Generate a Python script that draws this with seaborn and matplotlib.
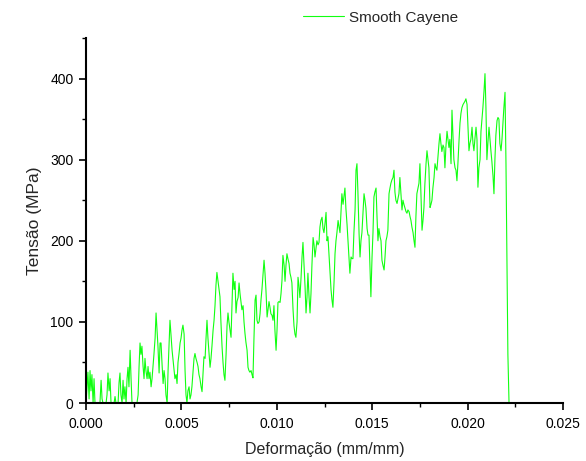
import numpy as np
import pandas as pd
import seaborn as sns
import matplotlib
matplotlib.use('Agg')
import matplotlib.pyplot as plt
from matplotlib.ticker import MultipleLocator, FormatStrFormatter

# strain (mm/mm), one value per pixel column
strain = [
    0.00000, 0.00005, 0.00010, 0.00016, 0.00021, 0.00026, 0.00031, 0.00037, 0.00042, 0.00047,
    0.00052, 0.00058, 0.00063, 0.00068, 0.00073, 0.00079, 0.00084, 0.00089, 0.00094, 0.00100,
    0.00105, 0.00110, 0.00115, 0.00121, 0.00126, 0.00131, 0.00136, 0.00142, 0.00147, 0.00152,
    0.00157, 0.00162, 0.00168, 0.00173, 0.00178, 0.00183, 0.00189, 0.00194, 0.00199, 0.00204,
    0.00210, 0.00215, 0.00220, 0.00225, 0.00231, 0.00236, 0.00241, 0.00246, 0.00252, 0.00257,
    0.00262, 0.00267, 0.00273, 0.00278, 0.00283, 0.00288, 0.00293, 0.00299, 0.00304, 0.00309,
    0.00314, 0.00320, 0.00325, 0.00330, 0.00335, 0.00341, 0.00346, 0.00351, 0.00356, 0.00362,
    0.00367, 0.00372, 0.00377, 0.00383, 0.00388, 0.00393, 0.00398, 0.00404, 0.00409, 0.00414,
    0.00419, 0.00425, 0.00430, 0.00435, 0.00440, 0.00445, 0.00451, 0.00456, 0.00461, 0.00466,
    0.00472, 0.00477, 0.00482, 0.00487, 0.00493, 0.00498, 0.00503, 0.00508, 0.00514, 0.00519,
    0.00524, 0.00529, 0.00534, 0.00540, 0.00545, 0.00550, 0.00555, 0.00561, 0.00566, 0.00571,
    0.00576, 0.00582, 0.00587, 0.00592, 0.00597, 0.00603, 0.00608, 0.00613, 0.00618, 0.00624,
    0.00629, 0.00634, 0.00639, 0.00645, 0.00650, 0.00655, 0.00660, 0.00666, 0.00671, 0.00676,
    0.00681, 0.00686, 0.00692, 0.00697, 0.00702, 0.00707, 0.00713, 0.00718, 0.00723, 0.00728,
    0.00734, 0.00739, 0.00744, 0.00749, 0.00755, 0.00760, 0.00765, 0.00770, 0.00776, 0.00781,
    0.00786, 0.00791, 0.00797, 0.00802, 0.00807, 0.00812, 0.00817, 0.00823, 0.00828, 0.00833,
    0.00838, 0.00844, 0.00849, 0.00854, 0.00859, 0.00865, 0.00870, 0.00875, 0.00880, 0.00886,
    0.00891, 0.00896, 0.00901, 0.00907, 0.00912, 0.00917, 0.00922, 0.00928, 0.00933, 0.00938,
    0.00943, 0.00949, 0.00954, 0.00959, 0.00964, 0.00969, 0.00975, 0.00980, 0.00985, 0.00990,
    0.00996, 0.01001, 0.01006, 0.01011, 0.01017, 0.01022, 0.01027, 0.01032, 0.01038, 0.01043,
    0.01048, 0.01053, 0.01058, 0.01064, 0.01069, 0.01074, 0.01079, 0.01085, 0.01090, 0.01095,
    0.01100, 0.01106, 0.01111, 0.01116, 0.01121, 0.01127, 0.01132, 0.01137, 0.01142, 0.01148,
    0.01153, 0.01158, 0.01163, 0.01169, 0.01174, 0.01179, 0.01184, 0.01190, 0.01195, 0.01200,
    0.01205, 0.01210, 0.01216, 0.01221, 0.01226, 0.01231, 0.01237, 0.01242, 0.01247, 0.01252,
    0.01258, 0.01263, 0.01268, 0.01273, 0.01279, 0.01284, 0.01289, 0.01294, 0.01300, 0.01305,
    0.01310, 0.01315, 0.01321, 0.01326, 0.01331, 0.01336, 0.01341, 0.01347, 0.01352, 0.01357,
    0.01362, 0.01368, 0.01373, 0.01378, 0.01383, 0.01389, 0.01394, 0.01399, 0.01404, 0.01410,
    0.01415, 0.01420, 0.01425, 0.01431, 0.01436, 0.01441, 0.01446, 0.01452, 0.01457, 0.01462,
    0.01467, 0.01473, 0.01478, 0.01483, 0.01488, 0.01493, 0.01499, 0.01504, 0.01509, 0.01514,
    0.01520, 0.01525, 0.01530, 0.01535, 0.01541, 0.01546, 0.01551, 0.01556, 0.01562, 0.01567,
    0.01572, 0.01577, 0.01582, 0.01588, 0.01593, 0.01598, 0.01603, 0.01609, 0.01614, 0.01619,
    0.01624, 0.01630, 0.01635, 0.01640, 0.01645, 0.01651, 0.01656, 0.01661, 0.01666, 0.01672,
    0.01677, 0.01682, 0.01687, 0.01693, 0.01698, 0.01703, 0.01708, 0.01714, 0.01719, 0.01724,
    0.01729, 0.01734, 0.01740, 0.01745, 0.01750, 0.01755, 0.01761, 0.01766, 0.01771, 0.01776,
    0.01782, 0.01787, 0.01792, 0.01797, 0.01803, 0.01808, 0.01813, 0.01818, 0.01824, 0.01829,
    0.01834, 0.01839, 0.01845, 0.01850, 0.01855, 0.01860, 0.01865, 0.01871, 0.01876, 0.01881,
    0.01886, 0.01892, 0.01897, 0.01902, 0.01907, 0.01913, 0.01918, 0.01923, 0.01928, 0.01934,
    0.01939, 0.01944, 0.01949, 0.01955, 0.01960, 0.01965, 0.01970, 0.01976, 0.01981, 0.01986,
    0.01991, 0.01997, 0.02002, 0.02007, 0.02012, 0.02017, 0.02023, 0.02028, 0.02033, 0.02038,
    0.02044, 0.02049, 0.02054, 0.02059, 0.02065, 0.02070, 0.02075, 0.02080, 0.02086, 0.02091,
    0.02096, 0.02101, 0.02106, 0.02112, 0.02117, 0.02122, 0.02127, 0.02133, 0.02138, 0.02143,
    0.02148, 0.02154, 0.02159, 0.02164, 0.02169, 0.02175, 0.02180, 0.02185, 0.02190, 0.02196,
    0.02201, 0.02206, 0.02211, 0.02217,
]

# stress (MPa)
stress = [
    0, 20, 38, 5, 40, 15, 35, 0, 30, 0,
    0, 0, 0, 0, 0, 28, 5, 0, 0, 0,
    0, 10, 37, 15, 30, 0, 0, 0, 0, 8,
    0, 0, 0, 25, 37, 10, 0, 28, 5, 20,
    0, 30, 44, 20, 65, 30, 0, 0, 0, 0,
    0, 0, 10, 45, 74, 60, 70, 45, 30, 55,
    40, 30, 45, 30, 38, 20, 30, 45, 60, 80,
    111, 90, 70, 37, 74, 74, 50, 24, 40, 30,
    10, 0, 40, 70, 102, 85, 65, 53, 40, 30,
    35, 24, 50, 60, 74, 80, 90, 96, 85, 40,
    10, 0, 15, 20, 5, 10, 20, 40, 55, 61,
    55, 50, 45, 35, 30, 20, 14, 35, 57, 55,
    80, 102, 80, 60, 44, 55, 70, 90, 102, 120,
    145, 161, 150, 140, 131, 100, 69, 50, 35, 28,
    60, 95, 111, 100, 90, 81, 120, 160, 140, 150,
    111, 125, 130, 148, 135, 125, 115, 120, 100, 86,
    75, 65, 44, 40, 38, 40, 35, 31, 78, 127,
    133, 102, 98, 100, 110, 127, 140, 160, 176, 160,
    139, 106, 115, 125, 118, 110, 108, 102, 120, 90,
    65, 90, 124, 125, 124, 135, 151, 182, 170, 150,
    170, 184, 178, 172, 160, 155, 148, 115, 95, 85,
    81, 100, 155, 145, 130, 155, 180, 198, 172, 143,
    111, 130, 160, 130, 111, 135, 170, 204, 195, 180,
    190, 200, 195, 198, 217, 225, 229, 215, 210, 220,
    235, 200, 205, 185, 160, 140, 127, 118, 150, 184,
    200, 210, 225, 217, 210, 235, 258, 245, 255, 265,
    240, 220, 200, 180, 160, 180, 178, 178, 210, 238,
    287, 295, 260, 209, 180, 200, 210, 235, 258, 250,
    240, 215, 207, 207, 170, 131, 180, 210, 254, 260,
    265, 230, 200, 215, 205, 200, 176, 170, 164, 180,
    200, 205, 213, 258, 265, 271, 275, 278, 287, 260,
    250, 246, 252, 258, 278, 255, 238, 250, 245, 240,
    236, 234, 238, 236, 230, 225, 217, 210, 200, 192,
    230, 258, 265, 271, 295, 260, 213, 225, 241, 270,
    295, 311, 300, 290, 241, 245, 250, 265, 278, 295,
    290, 287, 305, 320, 332, 320, 310, 318, 315, 290,
    315, 335, 325, 315, 325, 295, 361, 330, 300, 290,
    287, 274, 295, 324, 345, 357, 364, 368, 370, 372,
    375, 368, 340, 311, 320, 325, 340, 320, 311, 325,
    340, 325, 266, 290, 300, 335, 350, 364, 385, 406,
    364, 300, 320, 340, 325, 311, 298, 280, 258, 300,
    330, 348, 352, 350, 320, 311, 325, 345, 364, 383,
    295, 176, 60, 0,
]

series_name = "Smooth Cayene"
x_label = "Deformação (mm/mm)"
y_label = "Tensão (MPa)"

df = pd.DataFrame({'strain': strain, 'stress': stress})

sns.set_style("ticks")
plt.rcParams['font.family'] = ['Liberation Sans', 'DejaVu Sans']

fig = plt.figure(figsize=(5.86, 4.61), dpi=100)
ax = fig.add_axes([0.1468, 0.1258, 0.814, 0.7918])

sns.lineplot(data=df, x='strain', y='stress', ax=ax, color='#11ff11',
             linewidth=0.8, estimator=None, sort=False, label=series_name)

ax.set_xlim(0, 0.025)
ax.set_ylim(0, 450)
ax.xaxis.set_major_locator(MultipleLocator(0.005))
ax.xaxis.set_minor_locator(MultipleLocator(0.0025))
ax.xaxis.set_major_formatter(FormatStrFormatter('%.3f'))
ax.yaxis.set_major_locator(MultipleLocator(100))
ax.yaxis.set_minor_locator(MultipleLocator(50))

sns.despine(ax=ax)
for s in ['left', 'bottom']:
    ax.spines[s].set_linewidth(1.5)
    ax.spines[s].set_color('black')
ax.tick_params(which='major', direction='out', length=5, width=1.2,
               labelsize=10, colors='black')
ax.tick_params(axis='x', which='major', pad=5)
ax.tick_params(axis='y', which='major', pad=4)
ax.tick_params(which='minor', direction='out', length=3, width=1.0, colors='black')

ax.set_xlabel(x_label, fontsize=11.5, labelpad=8)
ax.set_ylabel(y_label, fontsize=12.5, labelpad=6)

ax.legend(loc='center left', bbox_to_anchor=(0.493, 0.962), bbox_transform=fig.transFigure,
          frameon=False, fontsize=11, handlelength=2.7, handletextpad=0.35)

fig.savefig('out.png', dpi=100)
